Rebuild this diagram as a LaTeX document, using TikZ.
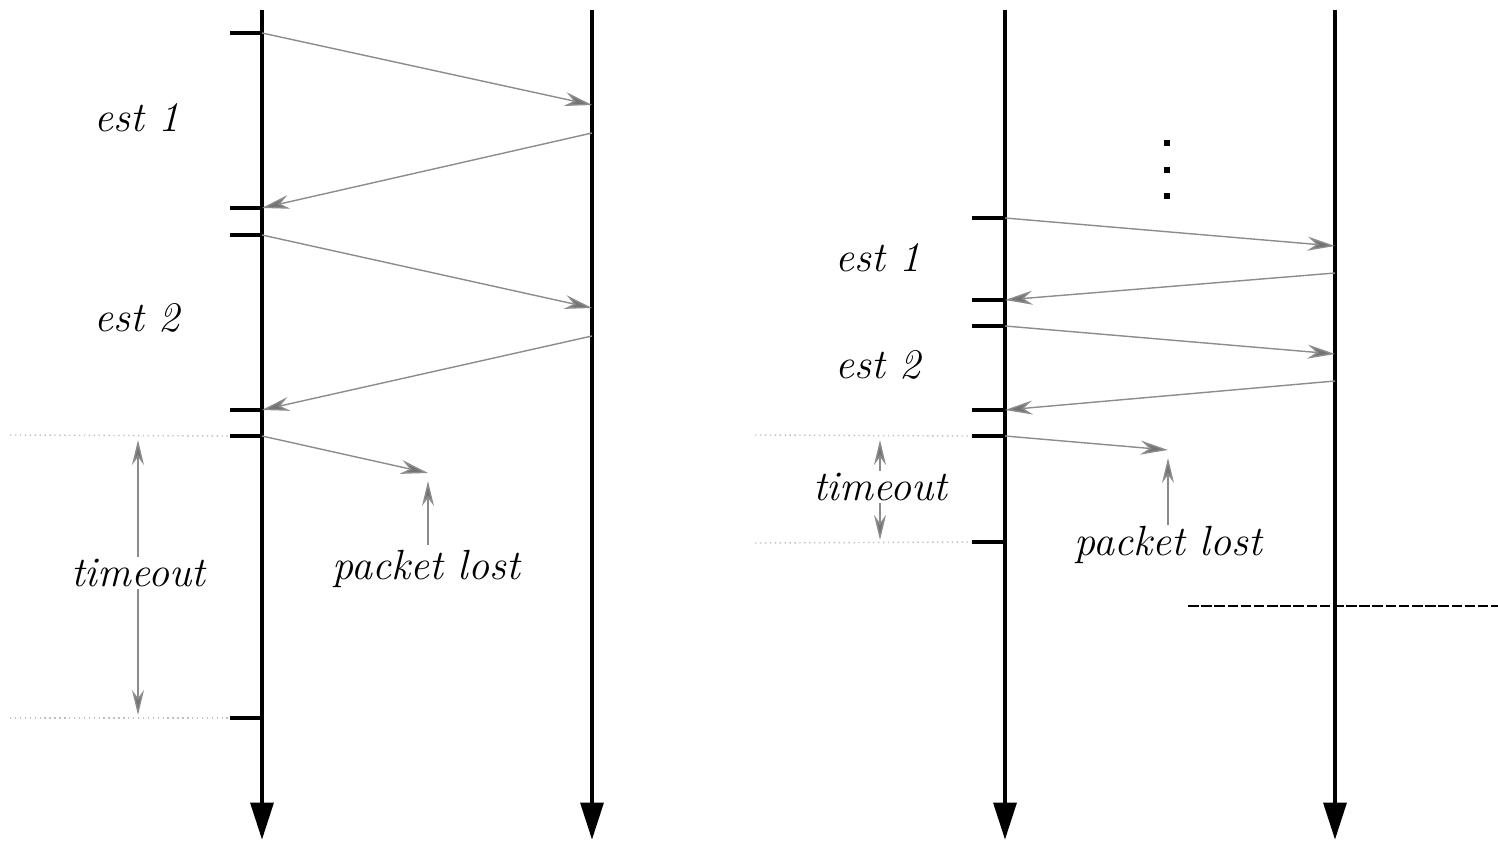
\documentclass[tikz,border=0pt]{standalone}
\usetikzlibrary{arrows.meta}
\begin{document}
\begin{tikzpicture}[x=0.02cm,y=-0.02cm,
  timeline/.style={line width=2.8pt,-{Triangle[width=0.45cm,length=0.75cm]}},
  tick/.style={line width=1.8pt},
  msg/.style={draw=black!45,line width=0.8pt,-{Stealth[length=0.55cm,width=0.28cm,fill=black!55]}},
  guide/.style={draw=black!25,line width=0.8pt,dotted},
  lbl/.style={font=\fontsize{24}{28}\selectfont\itshape,inner sep=1pt},
  dim/.style={draw=black!45,line width=0.8pt,-{Stealth[length=0.5cm,width=0.24cm,fill=black!55]}}]
\useasboundingbox (0,0) rectangle (1498,841);
% ---------- left diagram ----------
\coordinate (LAt) at (262,10); \coordinate (LAb) at (262,840);
\coordinate (LBt) at (592,10); \coordinate (LBb) at (592,840);
\draw[timeline] (LAt) -- (LAb);
\draw[timeline] (LBt) -- (LBb);
\foreach \n/\y in {1/33,2/208,3/235,4/410,5/436,6/718}{
  \coordinate (la\n) at (262,\y);
  \coordinate (lt\n) at (230,\y);
  \draw[tick] (lt\n) -- (la\n);
}
\coordinate (lb1) at (592,105); \coordinate (lb2) at (592,133);
\coordinate (lb3) at (592,308); \coordinate (lb4) at (592,336);
\coordinate (llost) at (428,473);
\draw[msg] (la1) -- (lb1);
\draw[msg] (lb2) -- (la2);
\draw[msg] (la3) -- (lb3);
\draw[msg] (lb4) -- (la4);
\draw[msg] (la5) -- (llost);
\node[lbl] (lest1) at (137,118) {est 1};
\node[lbl] (lest2) at (137,318) {est 2};
\coordinate (lg1a) at (10,435); \coordinate (lg2a) at (10,718);
\draw[guide] (lg1a) -- (lt5);
\draw[guide] (lg2a) -- (lt6);
\node[lbl] (lto) at (138,573) {timeout};
\coordinate (lto1) at (138,440); \coordinate (lto2) at (138,715);
\draw[dim] (lto.north) -- (lto1);
\draw[dim] (lto.south) -- (lto2);
\node[lbl] (llbl) at (426,569) {packet lost};
\coordinate (llostbase) at (428,545);
\coordinate (llosttip) at (428,481);
\draw[dim] (llostbase) -- (llosttip);
% ---------- right diagram ----------
\coordinate (RAt) at (1005,10); \coordinate (RAb) at (1005,840);
\coordinate (RBt) at (1335,10); \coordinate (RBb) at (1335,840);
\draw[timeline] (RAt) -- (RAb);
\draw[timeline] (RBt) -- (RBb);
\foreach \y [count=\i] in {143,170,196}{
  \coordinate (dot\i) at (1167,\y);
  \fill (dot\i) ++(-3,-3) rectangle ++(6,6);
}
\foreach \n/\y in {1/218,2/300,3/326,4/410,5/436,6/542}{
  \coordinate (ra\n) at (1005,\y);
  \coordinate (rt\n) at (972,\y);
  \draw[tick] (rt\n) -- (ra\n);
}
\coordinate (rb1) at (1335,246); \coordinate (rb2) at (1335,273);
\coordinate (rb3) at (1335,354); \coordinate (rb4) at (1335,381);
\coordinate (rlost) at (1168,450);
\draw[msg] (ra1) -- (rb1);
\draw[msg] (rb2) -- (ra2);
\draw[msg] (ra3) -- (rb3);
\draw[msg] (rb4) -- (ra4);
\draw[msg] (ra5) -- (rlost);
\node[lbl] (rest1) at (878,258) {est 1};
\node[lbl] (rest2) at (878,365) {est 2};
\coordinate (rg1a) at (755,435); \coordinate (rg2a) at (755,543);
\draw[guide] (rg1a) -- (rt5);
\draw[guide] (rg2a) -- (rt6);
\node[lbl] (rto) at (880,487) {timeout};
\coordinate (rto1) at (880,440); \coordinate (rto2) at (880,540);
\draw[dim] (rto.north) -- (rto1);
\draw[dim] (rto.south) -- (rto2);
\node[lbl] (rlbl) at (1168,545) {packet lost};
\coordinate (rlostbase) at (1168,525);
\coordinate (rlosttip) at (1168,458);
\draw[dim] (rlostbase) -- (rlosttip);
\coordinate (cutA) at (1188,606); \coordinate (cutB) at (1498,606);
\draw[line width=1.2pt,dashed,dash pattern=on 6pt off 1.5pt] (cutA) -- (cutB);
\end{tikzpicture}
\end{document}
